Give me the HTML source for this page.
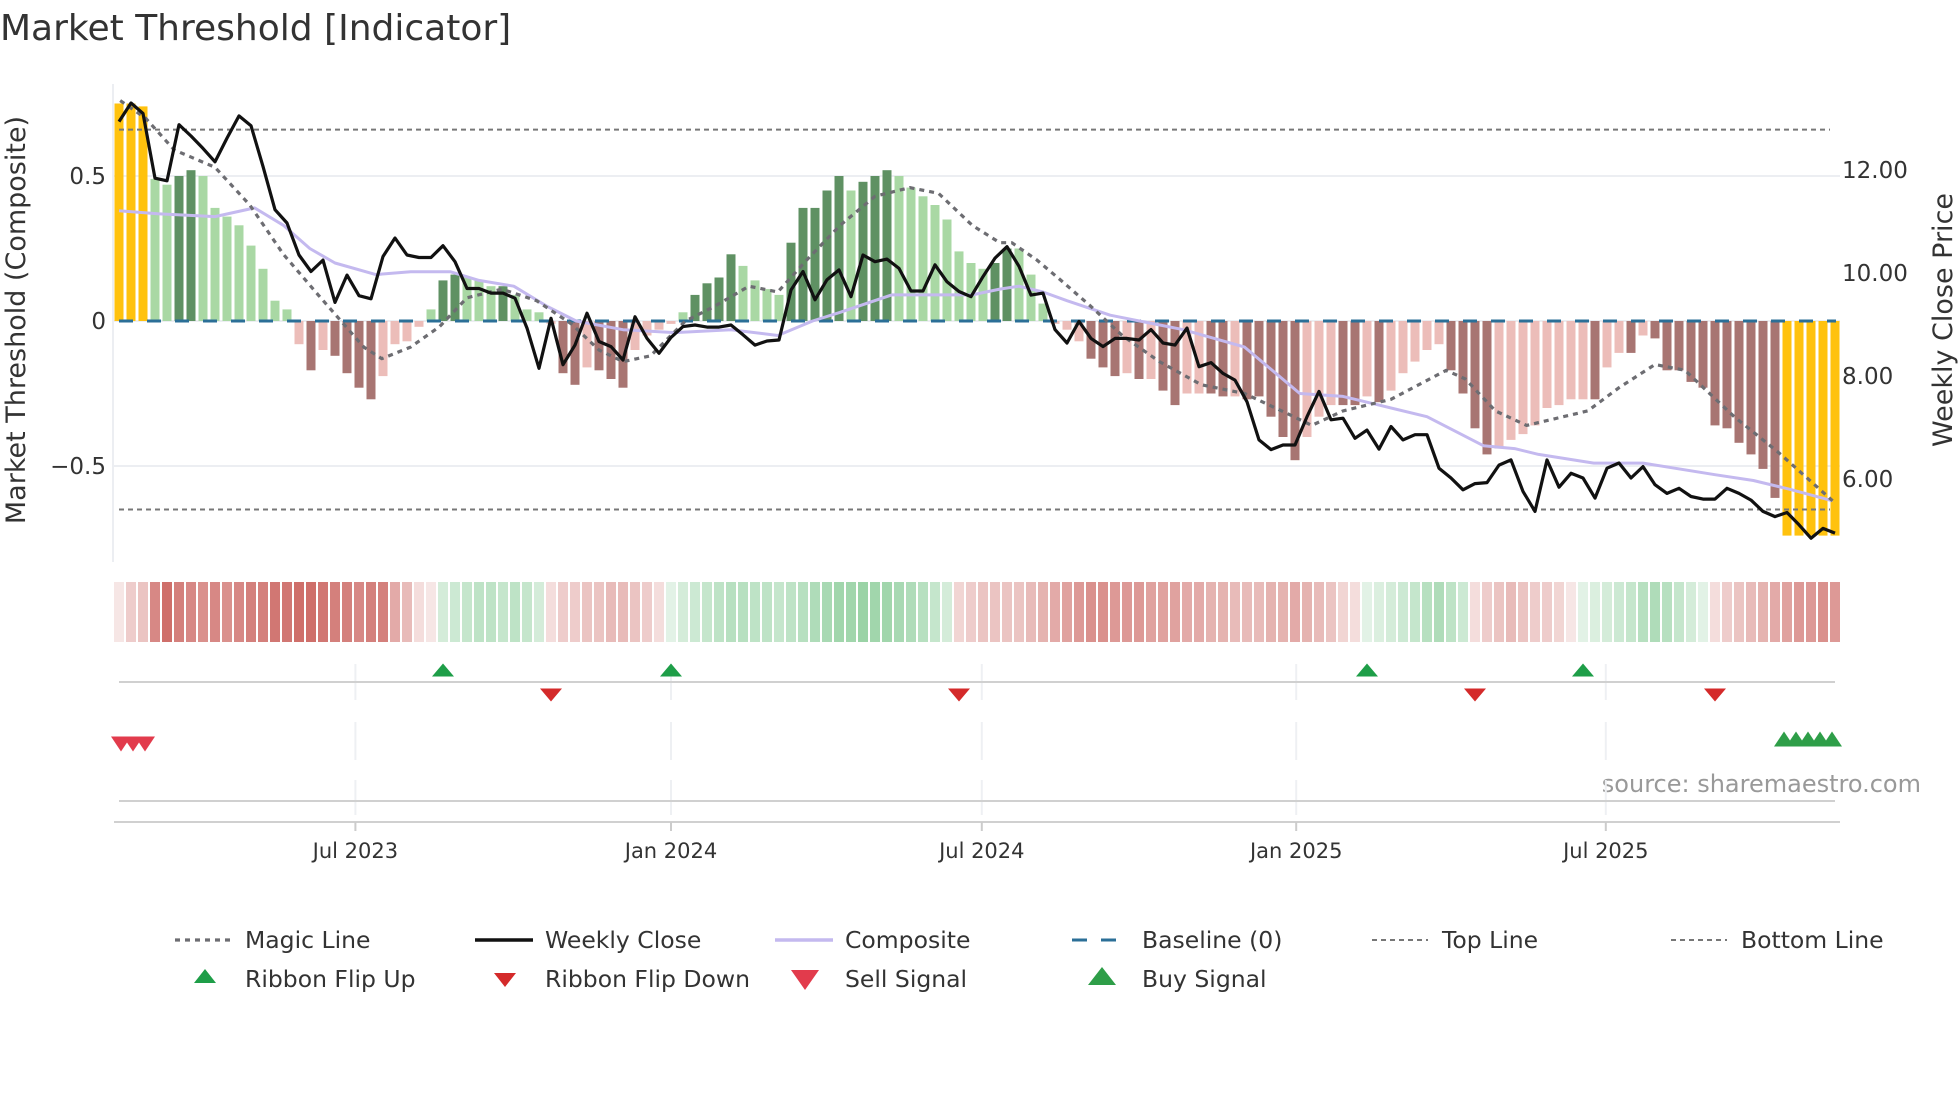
<!DOCTYPE html>
<html><head><meta charset="utf-8"><style>
html,body{margin:0;padding:0;background:#fff;}
svg{display:block;font-family:"DejaVu Sans","Liberation Sans",sans-serif;}
</style></head><body>
<svg id="chart" width="1960" height="1102" viewBox="0 0 1960 1102" xmlns="http://www.w3.org/2000/svg">
<text x="0" y="40" font-size="36" fill="#333">Market Threshold [Indicator]</text>
<text transform="translate(25,320) rotate(-90)" text-anchor="middle" font-size="27" fill="#333">Market Threshold (Composite)</text>
<text transform="translate(1952,320) rotate(-90)" text-anchor="middle" font-size="27" fill="#333">Weekly Close Price</text>
<text x="1921" y="792" text-anchor="end" font-size="24" fill="#999">source: sharemaestro.com</text>
<g id="grid"></g><g id="bars"></g><g id="lines"></g><g id="lower"></g><g id="axes"></g><g id="legend"></g>
</svg>
<script>
const compBars=[0.75,0.75,0.74,0.49,0.47,0.50,0.52,0.50,0.39,0.36,0.33,0.26,0.18,0.07,0.04,
-0.08,-0.17,-0.10,-0.12,-0.18,-0.23,-0.27,-0.19,-0.08,-0.07,-0.02,
0.04,0.14,0.16,0.15,0.14,0.12,0.12,0.09,0.04,0.03,
-0.01,-0.18,-0.22,-0.16,-0.17,-0.20,-0.23,-0.10,-0.05,-0.03,-0.01,
0.03,0.09,0.13,0.15,0.23,0.19,0.14,0.11,0.09,0.27,0.39,0.39,0.45,0.50,0.45,0.48,0.50,0.52,0.50,0.46,0.43,0.40,0.35,0.24,0.20,0.18,0.20,0.25,0.25,0.16,0.06,-0.01,
-0.03,-0.07,-0.13,-0.16,-0.19,-0.18,-0.20,-0.20,-0.24,-0.29,-0.25,-0.25,-0.25,-0.26,-0.26,-0.27,-0.26,-0.33,-0.40,-0.48,-0.40,-0.33,-0.29,-0.29,-0.29,-0.26,-0.28,-0.24,-0.18,-0.14,-0.10,-0.08,-0.17,-0.25,-0.37,-0.46,-0.44,-0.41,-0.39,-0.36,-0.30,-0.29,-0.27,-0.27,-0.27,-0.16,-0.11,-0.11,-0.05,-0.06,-0.17,-0.17,-0.21,-0.23,-0.36,-0.37,-0.42,-0.46,-0.51,-0.61,
-0.74,-0.74,-0.74,-0.74,-0.74];
const barKind=["Y","Y","Y","L","L","D","D","L","L","L","L","L","L","L","L",
"P","D","P","D","D","D","D","P","P","P","P",
"L","D","D","L","L","L","D","L","L","L",
"P","D","D","P","D","D","D","P","P","P","P",
"L","D","D","D","D","L","L","L","L","D","D","D","D","D","L","D","D","D","L","L","L","L","L","L","L","L","D","D","L","L","L","P",
"P","P","D","D","D","P","D","P","D","D","P","P","D","D","P","D","D","D","D","D","P","P","P","D","D","P","D","P","P","P","P","P","D","D","D","D","P","P","P","P","P","P","P","P","D","P","P","D","P","D","D","D","D","D","D","D","D","D","D","D",
"Y","Y","Y","Y","Y"];
const weeklyClose=[12.94,13.30,13.10,11.84,11.79,12.88,12.66,12.42,12.16,12.62,13.05,12.86,12.07,11.23,10.97,10.35,10.03,10.25,9.43,9.96,9.56,9.50,10.32,10.68,10.35,10.30,10.30,10.53,10.22,9.70,9.70,9.61,9.61,9.51,8.93,8.15,9.12,8.22,8.60,9.22,8.67,8.57,8.31,9.15,8.73,8.44,8.75,8.96,8.99,8.95,8.95,8.99,8.80,8.60,8.68,8.70,9.67,10.03,9.48,9.87,10.06,9.54,10.35,10.22,10.27,10.09,9.65,9.65,10.16,9.83,9.64,9.54,9.93,10.29,
10.51,10.13,9.57,9.61,8.90,8.64,9.06,8.73,8.57,8.73,8.73,8.70,8.90,8.64,8.60,8.93,8.18,8.26,8.05,7.92,7.50,6.76,6.57,6.66,6.66,7.21,7.70,7.15,7.18,6.79,6.95,6.58,7.02,6.76,6.86,6.86,6.21,6.02,5.79,5.91,5.93,6.27,6.37,5.76,5.37,6.37,5.84,6.11,6.02,5.63,6.21,6.31,6.02,6.24,5.89,5.72,5.82,5.66,5.61,5.61,5.82,5.72,5.59,5.37,5.27,5.35,5.11,4.85,5.04,4.95];
const compositeIdx=[0,3.2,8,11.3,13.7,15.9,18,21.4,24.3,27.6,30,32.9,35.7,38.1,42,46.3,51,54.9,57.8,60.1,64.4,67.8,71.1,73.4,75,77,79,82.6,88.7,93.8,98.4,102,105,109,113.7,116.3,118.3,122.9,127,133,136.2,139.2,142.8];
const compositeVal=[0.38,0.37,0.36,0.39,0.33,0.25,0.20,0.16,0.17,0.17,0.14,0.12,0.05,0.00,-0.03,-0.04,-0.03,-0.05,0.00,0.03,0.09,0.09,0.09,0.11,0.12,0.10,0.07,0.02,-0.03,-0.09,-0.25,-0.26,-0.29,-0.33,-0.43,-0.44,-0.46,-0.49,-0.49,-0.53,-0.55,-0.58,-0.62];
const magicIdx=[0.1,2.2,4.6,8,10.9,13.7,16.6,18.5,20.4,21.9,24.3,26.7,29,31.9,34.8,37.7,40,42,44.3,47.2,49.6,52.5,54.9,57.3,60.1,63,65.9,68.3,71.1,73.4,74.4,76.5,78.5,81,83.6,86.7,90.2,93.8,97.4,99.4,102,106,110.6,112.2,114.7,117.3,122.4,125,128,130.5,134.6,138.2,142.8];
const magicVal=[0.76,0.70,0.59,0.53,0.40,0.23,0.09,0.00,-0.09,-0.13,-0.09,-0.02,0.08,0.11,0.07,-0.01,-0.10,-0.14,-0.12,0.00,0.05,0.12,0.10,0.21,0.33,0.43,0.46,0.44,0.33,0.27,0.27,0.21,0.14,0.05,-0.05,-0.14,-0.22,-0.25,-0.32,-0.36,-0.31,-0.27,-0.17,-0.20,-0.31,-0.36,-0.31,-0.23,-0.15,-0.17,-0.33,-0.45,-0.62];
const ribbonVal=[-0.15,-0.3,-0.35,-0.7,-0.85,-0.75,-0.7,-0.65,-0.7,-0.65,-0.7,-0.75,-0.75,-0.8,-0.8,-0.85,-0.85,-0.8,-0.75,-0.75,-0.7,-0.75,-0.75,-0.5,-0.4,-0.2,-0.15,
0.3,0.35,0.4,0.45,0.45,0.4,0.45,0.4,0.3,
-0.2,-0.3,-0.3,-0.35,-0.35,-0.4,-0.4,-0.35,-0.3,-0.2,
0.2,0.3,0.35,0.4,0.45,0.5,0.5,0.45,0.45,0.4,0.45,0.5,0.55,0.6,0.65,0.65,0.7,0.65,0.65,0.6,0.55,0.5,0.4,0.3,
-0.25,-0.3,-0.35,-0.35,-0.35,-0.35,-0.4,-0.45,-0.5,-0.55,-0.6,-0.65,-0.65,-0.6,-0.6,-0.6,-0.55,-0.55,-0.55,-0.5,-0.5,-0.45,-0.45,-0.4,-0.4,-0.4,-0.45,-0.45,-0.5,-0.45,-0.4,-0.35,-0.25,-0.2,
0.2,0.25,0.3,0.35,0.4,0.5,0.55,0.45,0.35,
-0.2,-0.3,-0.35,-0.4,-0.35,-0.3,-0.3,-0.25,-0.15,
0.2,0.25,0.3,0.35,0.4,0.5,0.55,0.5,0.4,0.3,0.2,
-0.2,-0.3,-0.35,-0.4,-0.45,-0.5,-0.55,-0.6,-0.6,-0.65,-0.6];
const flipUpIdx=[27,46,104,122];
const flipDownIdx=[36,70,113,133];
const sellIdx=[0,1,2];
const buyIdx=[139,140,141,142,143];
const leftTicks=[0.5,0,-0.5];
const leftTickLabels=["0.5","0","\u22120.5"];
const rightTicks=[12,10,8,6];
const rightTickLabels=["12.00","10.00","8.00","6.00"];
const xTickIdx=[19.7,46,71.9,98.1,123.9];
const xTickLabels=["Jul 2023","Jan 2024","Jul 2024","Jan 2025","Jul 2025"];
const topLineVal=0.66, bottomLineVal=-0.65;

const NS="http://www.w3.org/2000/svg";
const xAt=i=>119+12*i;
const yL=v=>321-v*290;
const yR=p=>479-(p-6)*51.5;
function mk(tag,parent,attrs){const e=document.createElementNS(NS,tag);for(const k in attrs)e.setAttribute(k,attrs[k]);parent.appendChild(e);return e;}
const G=id=>document.getElementById(id);
const grid=G('grid'),bars=G('bars'),lines=G('lines'),lower=G('lower'),axes=G('axes'),legend=G('legend');

leftTicks.forEach((v,k)=>{
  const l=mk('line',grid,{x1:114,x2:1840,y1:yL(v),y2:yL(v),stroke:'#eceef2','stroke-width':2});
  
  
  const t=mk('text',axes,{x:106,y:yL(v)+8,'text-anchor':'end','font-size':23,fill:'#333'});
  t.textContent=leftTickLabels[k];
  
  
});
rightTicks.forEach((p,k)=>{
  const t=mk('text',axes,{x:1842,y:yR(p)+8,'font-size':23,fill:'#333'});
  t.textContent=rightTickLabels[k];
  
  
});
const ax=mk('line',grid,{x1:113,x2:113,y1:84,y2:562,stroke:'#eceef2','stroke-width':2});



const barColor={Y:'#ffc20e',L:'#a9d8a4',D:'#5f9163',P:'#ecbdb9',N:'#a87572'};
compBars.forEach((v,i)=>{
  let k=barKind[i]; if(k==='D'&&v<0)k='N';
  const y0=yL(0),y1=yL(v);
  const r=mk('rect',bars,{x:xAt(i)-4.5,y:Math.min(y0,y1),width:9,height:Math.abs(y1-y0),fill:barColor[k]});
  
  
});

function hline(v,name,attrs){const l=mk('line',lines,Object.assign({x1:119,x2:1830,y1:yL(v),y2:yL(v)},attrs));
  
  }
hline(topLineVal,'top-line',{stroke:'#777','stroke-width':2,'stroke-dasharray':'5 4'});
hline(bottomLineVal,'bottom-line',{stroke:'#777','stroke-width':2,'stroke-dasharray':'5 4'});
hline(0,'baseline',{stroke:'#2b6f97','stroke-width':3,'stroke-dasharray':'14 14',x2:1836});

function poly(xs,ys,name,attrs){const d=xs.map((x,k)=>(k?'L':'M')+x.toFixed(1)+','+ys[k].toFixed(1)).join('');
  const p=mk('path',lines,Object.assign({d:d,fill:'none','stroke-linejoin':'round'},attrs));
  
  }
poly(compositeIdx.map(xAt),compositeVal.map(yL),'composite-line',{stroke:'#c4b9ef','stroke-width':3});
poly(magicIdx.map(xAt),magicVal.map(yL),'magic-line',{stroke:'#6d6d72','stroke-width':3.2,'stroke-dasharray':'5 5'});
poly(weeklyClose.map((_,i)=>xAt(i)),weeklyClose.map(yR),'weekly-close-line',{stroke:'#111','stroke-width':3.2});

ribbonVal.forEach((v,i)=>{
  const a=Math.min(1,Math.abs(v));const b=v<0?[198,85,80]:[110,192,128];
  const c=b.map(x=>Math.round(255-(255-x)*a));
  const r=mk('rect',lower,{x:xAt(i)-5,y:582,width:10,height:60,fill:'rgb('+c.join(',')+')'});
  
  
});
xTickIdx.forEach((ti,k)=>{
  const x=xAt(ti);
  [[664,700],[722,760],[780,815]].forEach(s=>{
    const l=mk('line',lower,{x1:x,x2:x,y1:s[0],y2:s[1],stroke:'#eef0f3','stroke-width':2});
    
    
  });
  const tk=mk('line',axes,{x1:x,x2:x,y1:822,y2:831,stroke:'#ccc','stroke-width':2});
  
  
  const t=mk('text',axes,{x:x,y:858,'text-anchor':'middle','font-size':21,fill:'#333'});
  t.textContent=xTickLabels[k];
  
  
});
[[682,119,1835],[801,119,1835],[822,114,1840]].forEach(s=>{
  const l=mk('line',lower,{x1:s[1],x2:s[2],y1:s[0],y2:s[0],stroke:'#d0d0d0','stroke-width':2});
  
  
});
function tri(parent,cx,cy,w,h,up,fill){
  const pts=up?[[cx-w/2,cy+h/2],[cx+w/2,cy+h/2],[cx,cy-h/2]]:[[cx-w/2,cy-h/2],[cx+w/2,cy-h/2],[cx,cy+h/2]];
  return mk('polygon',parent,{points:pts.map(p=>p.join(',')).join(' '),fill:fill});
}
flipUpIdx.forEach(i=>{const t=tri(lower,xAt(i),670,22,13,true,'#1e9e48');
  
  });
flipDownIdx.forEach(i=>{const t=tri(lower,xAt(i),695,22,13,false,'#d42a2a');
  
  });
sellIdx.forEach(i=>{const t=tri(lower,xAt(i)+2,744,20,15,false,'#e23b4c');
  
  });
buyIdx.forEach(i=>{const t=tri(lower,xAt(i)-3,739,20,15,true,'#2e9e48');
  
  });

const legNames=["Magic Line","Weekly Close","Composite","Baseline (0)","Top Line","Bottom Line","Ribbon Flip Up","Ribbon Flip Down","Sell Signal","Buy Signal"];
const legX=[175,475,775,1072,1372,1671,175,475,775,1072];
legNames.forEach((n,k)=>{
  const row=k<6?0:1,y=row?979:940,x=legX[k];
  const g=mk('g',legend,{});
  
  
  if(k===0)mk('line',g,{x1:x,x2:x+55,y1:y,y2:y,stroke:'#6d6d72','stroke-width':3.2,'stroke-dasharray':'5 5'});
  if(k===1)mk('line',g,{x1:x,x2:x+58,y1:y,y2:y,stroke:'#111','stroke-width':3.5});
  if(k===2)mk('line',g,{x1:x,x2:x+58,y1:y,y2:y,stroke:'#c4b9ef','stroke-width':3.5});
  if(k===3)mk('line',g,{x1:x,x2:x+58,y1:y,y2:y,stroke:'#2b6f97','stroke-width':3,'stroke-dasharray':'15 14'});
  if(k===4||k===5)mk('line',g,{x1:x,x2:x+56,y1:y,y2:y,stroke:'#777','stroke-width':2,'stroke-dasharray':'5 4'});
  if(k===6)tri(g,x+30,y-3,22,14,true,'#1e9e48');
  if(k===7)tri(g,x+30,y+1,22,14,false,'#d42a2a');
  if(k===8)tri(g,x+30,y+1,28,20,false,'#e23b4c');
  if(k===9)tri(g,x+30,y-3,28,18,true,'#2e9e48');
  const t=mk('text',g,{x:x+70,y:y+8,'font-size':23.5,fill:'#333'});
  t.textContent=n;
});
</script>
</body></html>
